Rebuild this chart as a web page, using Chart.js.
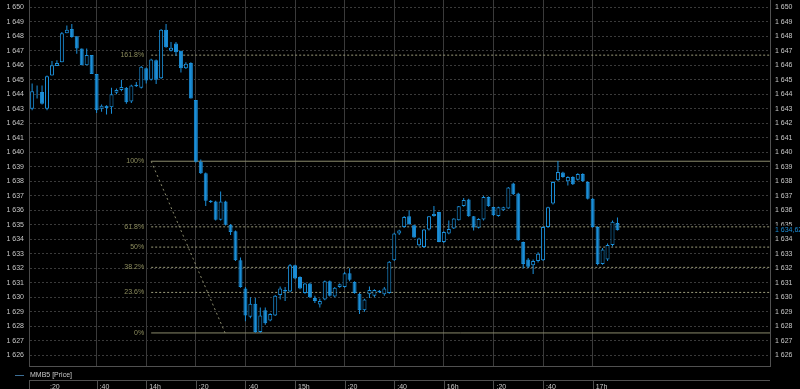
<!DOCTYPE html>
<html>
<head>
<meta charset="utf-8">
<script src="https://cdn.jsdelivr.net/npm/chart.js@4.4.0/dist/chart.umd.min.js"></script>
<style>
  html, body { margin: 0; padding: 0; background: #000; overflow: hidden; }
  #wrap { position: relative; width: 800px; height: 392px; }
</style>
</head>
<body>
<div id="wrap"><canvas id="chart"></canvas></div>
<script>
// 2-minute candles, time in minutes after 13:00
const firstMinute = 14;
const stepMinutes = 2;

const opens = [
  1643.0, 1644.2, 1644.15, 1643.0, 1645.3, 1645.95, 1646.2, 1648.2, 1648.5, 1648.0,
  1647.15, 1646.0, 1646.7, 1645.4, 1643.0, 1643.2, 1643.1, 1644.1, 1644.3, 1644.45,
  1643.5, 1644.55, 1644.45, 1645.8, 1645.0, 1646.35, 1645.1, 1648.45, 1647.0, 1647.5,
  1647.0, 1645.8, 1646.15, 1643.6, 1639.35, 1638.55, 1636.65, 1636.6, 1635.35, 1636.6,
  1635.0, 1634.55, 1632.55, 1630.6, 1628.65, 1629.55, 1627.6, 1629.1, 1628.4, 1628.75,
  1630.15, 1630.5, 1630.4, 1632.2, 1631.4, 1630.3, 1630.95, 1629.95, 1629.5, 1629.85,
  1631.1, 1630.05, 1630.7, 1630.7, 1631.65, 1631.05, 1630.25, 1629.1, 1630.2, 1630.1,
  1630.45, 1630.2, 1630.3, 1632.55, 1634.4, 1634.85, 1635.59, 1634.97, 1633.59, 1633.47,
  1634.67, 1635.6, 1635.88, 1633.81, 1634.4, 1634.74, 1635.31, 1636.3, 1636.74, 1635.59,
  1634.8, 1635.36, 1636.92, 1636.23, 1635.6, 1636.0, 1636.12, 1637.84, 1637.15, 1633.81,
  1632.6, 1632.2, 1632.5, 1632.55, 1634.85, 1636.46, 1638.07, 1638.6, 1638.0, 1638.3,
  1638.1, 1638.5, 1637.95, 1636.8, 1634.85, 1632.3, 1632.6, 1633.6, 1635.13
];
const highs = [
  1644.75, 1644.6, 1644.6, 1645.3, 1646.3, 1646.35, 1648.3, 1648.75, 1648.85, 1648.0,
  1647.15, 1647.15, 1646.7, 1645.4, 1643.3, 1643.25, 1644.45, 1644.4, 1645.0, 1644.5,
  1644.65, 1644.85, 1645.95, 1645.85, 1646.45, 1646.4, 1648.5, 1648.85, 1647.6, 1647.6,
  1647.0, 1646.2, 1646.2, 1643.6, 1639.5, 1638.6, 1636.7, 1636.65, 1637.3, 1636.65,
  1635.05, 1634.6, 1632.75, 1630.7, 1630.0, 1629.95, 1629.3, 1629.3, 1628.9, 1630.15,
  1630.75, 1630.7, 1632.3, 1632.25, 1631.45, 1631.0, 1631.0, 1630.1, 1629.9, 1631.15,
  1631.15, 1630.7, 1630.95, 1631.75, 1632.0, 1631.1, 1630.3, 1629.9, 1630.75, 1630.55,
  1630.5, 1630.7, 1632.5, 1634.45, 1634.65, 1635.6, 1636.0, 1635.0, 1634.1, 1634.7,
  1635.6, 1636.3, 1635.9, 1634.55, 1635.3, 1635.45, 1636.3, 1636.85, 1636.8, 1635.6,
  1635.45, 1637.0, 1636.95, 1636.25, 1636.25, 1636.25, 1637.6, 1637.9, 1637.2, 1633.85,
  1632.7, 1632.6, 1633.1, 1634.9, 1636.25, 1638.0, 1639.4, 1638.65, 1638.35, 1638.35,
  1638.55, 1638.55, 1638.0, 1636.85, 1634.9, 1633.4, 1633.7, 1635.3, 1635.5
];
const lows = [
  1642.9, 1643.7, 1643.3, 1642.9, 1645.3, 1645.95, 1646.2, 1648.2, 1647.9, 1646.8,
  1646.0, 1646.0, 1645.4, 1642.7, 1642.8, 1642.6, 1642.65, 1644.0, 1644.2, 1643.35,
  1643.4, 1644.5, 1644.4, 1644.75, 1644.95, 1644.7, 1645.05, 1647.2, 1646.95, 1646.65,
  1645.5, 1645.75, 1643.7, 1639.3, 1638.5, 1636.3, 1636.5, 1635.3, 1635.3, 1634.95,
  1634.3, 1632.5, 1630.65, 1628.35, 1628.55, 1627.55, 1627.55, 1628.1, 1628.35, 1628.7,
  1629.85, 1629.75, 1630.35, 1631.25, 1630.55, 1630.25, 1629.95, 1629.6, 1629.3, 1629.8,
  1630.05, 1630.0, 1630.65, 1630.65, 1631.1, 1630.25, 1628.85, 1629.0, 1629.95, 1630.0,
  1630.3, 1630.1, 1630.25, 1632.5, 1634.3, 1634.8, 1635.0, 1634.1, 1633.5, 1633.4,
  1634.6, 1635.55, 1633.8, 1633.75, 1634.35, 1634.7, 1635.3, 1636.25, 1635.55, 1634.6,
  1634.75, 1635.3, 1636.25, 1635.6, 1635.55, 1635.95, 1636.1, 1637.05, 1633.9, 1632.0,
  1632.0, 1631.6, 1632.4, 1632.5, 1634.8, 1636.4, 1638.0, 1638.25, 1637.7, 1637.75,
  1638.05, 1637.95, 1636.75, 1634.8, 1632.2, 1632.25, 1632.5, 1633.5, 1634.6
];
const closes = [
  1644.2, 1644.25, 1643.35, 1645.25, 1646.0, 1646.15, 1648.2, 1648.45, 1647.95, 1647.15,
  1646.0, 1646.7, 1645.4, 1642.9, 1643.2, 1643.05, 1644.0, 1644.3, 1644.5, 1643.45,
  1644.6, 1644.65, 1645.9, 1644.95, 1646.4, 1645.0, 1648.45, 1647.25, 1647.2, 1646.9,
  1645.8, 1646.1, 1643.7, 1639.35, 1638.55, 1636.65, 1636.55, 1635.35, 1636.6, 1635.0,
  1634.5, 1632.55, 1630.7, 1628.75, 1629.55, 1627.6, 1628.75, 1628.2, 1628.85, 1630.1,
  1630.6, 1630.4, 1632.2, 1631.3, 1630.6, 1630.95, 1630.0, 1629.75, 1629.75, 1631.1,
  1630.1, 1630.65, 1630.9, 1631.65, 1631.2, 1630.3, 1629.1, 1629.85, 1630.5, 1630.5,
  1630.35, 1630.6, 1632.45, 1634.4, 1634.6, 1635.54, 1635.03, 1634.12, 1634.05, 1634.67,
  1635.59, 1635.75, 1633.81, 1634.5, 1634.7, 1635.43, 1636.27, 1636.7, 1635.59, 1634.81,
  1635.4, 1636.92, 1636.28, 1635.66, 1636.2, 1636.2, 1637.57, 1637.1, 1633.93, 1632.3,
  1632.1, 1632.5, 1633.0, 1634.85, 1636.2, 1637.95, 1638.64, 1638.3, 1638.3, 1637.8,
  1638.5, 1638.0, 1636.8, 1634.85, 1632.3, 1633.3, 1633.6, 1635.2, 1634.62
];

// axis ticks
const yTickValues = [1626, 1627, 1628, 1629, 1630, 1631, 1632, 1633, 1634, 1635, 1636, 1637,
  1638, 1639, 1640, 1641, 1642, 1643, 1644, 1645, 1646, 1647, 1648, 1649, 1650];
const xTickMinutes = [20, 40, 60, 80, 100, 120, 140, 160, 180, 200, 220, 240];
const xTickLabels = [':20', ':40', '14h', ':20', ':40', '15h', ':20', ':40', '16h', ':20', ':40', '17h'];

// Fibonacci retracement drawn from the 14h02 high down to the 14h32 low
const fibLevels = [0, 23.6, 38.2, 50, 61.8, 100, 161.8];
const fibHigh = 1639.38;
const fibLow = 1627.54;
const fibStartMinute = 62;
const fibLowMinute = 91.8;

const seriesName = 'MMB5 [Price]';
const lastPrice = 1634.62;

const blue = '#1b8fd9';
const grid = '#3a3a3a';
const font = '"Liberation Sans", Arial, sans-serif';
const fontSize = 7;
const xMin = 12.74, xMax = 311.5;
const yMin = 1625.26, yMax = 1650.5;

const fibPrice = (lvl) => fibLow + (fibHigh - fibLow) * lvl / 100;
const spaced = (v) => String(v).replace(/\B(?=(\d{3})+(?!\d))/g, ' ');

const times = opens.map((_, i) => firstMinute + i * stepMinutes);
const bodies = times.map((t, i) => ({ x: t, y: [opens[i], closes[i]] }));
const wicks = times.map((t, i) => ({ x: t, y: [lows[i], highs[i]] }));
const rising = opens.map((o, i) => closes[i] >= o);

const fibSets = fibLevels.map(lvl => ({
  type: 'line',
  data: [{ x: fibStartMinute, y: fibPrice(lvl) }, { x: xMax, y: fibPrice(lvl) }],
  borderColor: (lvl === 0 || lvl === 100) ? '#8a8a6c' : '#9a9a7a',
  borderWidth: 1,
  borderDash: (lvl === 0 || lvl === 100) ? [] : [2, 2],
  pointRadius: 0,
  order: 5
}));
fibSets.push({
  type: 'line',
  data: [{ x: fibStartMinute, y: fibHigh }, { x: fibLowMinute, y: fibLow }],
  borderColor: '#8a8a6c',
  borderWidth: 1,
  borderDash: [2, 3],
  pointRadius: 0,
  order: 5
});

const overlay = {
  id: 'overlay',
  afterDatasetsDraw(chart) {
    const { ctx, scales: { x, y } } = chart;
    ctx.save();
    ctx.font = fontSize + 'px ' + font;
    ctx.fillStyle = '#8d8d5e';
    ctx.textAlign = 'right';
    ctx.textBaseline = 'middle';
    const lx = x.getPixelForValue(fibStartMinute) - 7;
    fibLevels.forEach(lvl => ctx.fillText(lvl + '%', lx, y.getPixelForValue(fibPrice(lvl))));
    ctx.restore();
  },
  afterDraw(chart) {
    const { ctx, chartArea: a, scales: { x, y } } = chart;
    ctx.save();
    // time axis box
    ctx.strokeStyle = '#505050';
    ctx.lineWidth = 1;
    ctx.beginPath();
    ctx.moveTo(a.left, 380.5); ctx.lineTo(a.right, 380.5);
    ctx.moveTo(a.left + 0.5, 381); ctx.lineTo(a.left + 0.5, 392);
    x.ticks.forEach(t => {
      if (t.value === xTickMinutes[0]) return;
      const px = Math.round(x.getPixelForValue(t.value)) + 0.5;
      ctx.moveTo(px, 381); ctx.lineTo(px, 392);
    });
    ctx.stroke();
    // legend
    ctx.strokeStyle = '#3d6f96';
    ctx.beginPath();
    ctx.moveTo(15, 375.5); ctx.lineTo(24, 375.5);
    ctx.stroke();
    ctx.font = fontSize + 'px ' + font;
    ctx.fillStyle = '#c8c8c8';
    ctx.textAlign = 'left';
    ctx.textBaseline = 'middle';
    ctx.fillText(seriesName, 30, 375.5);
    // last price on the right axis
    const py = y.getPixelForValue(lastPrice);
    ctx.fillStyle = '#000';
    ctx.fillRect(a.right + 2, py - 4.5, 800 - a.right - 2, 9);
    ctx.fillStyle = blue;
    ctx.fillText(spaced(Math.floor(lastPrice)) + ',' + lastPrice.toFixed(2).split('.')[1], a.right + 5, py);
    ctx.restore();
  }
};

const yTicks = {
  color: '#c8c8c8',
  font: { family: font, size: fontSize },
  padding: 5,
  callback: v => spaced(v)
};
const setYTicks = s => { s.ticks = yTickValues.map(v => ({ value: v })); };

new Chart(document.getElementById('chart'), {
  type: 'bar',
  data: {
    datasets: [
      {
        label: 'bodies',
        data: bodies,
        backgroundColor: rising.map(r => r ? '#000' : blue),
        borderColor: blue,
        borderWidth: 1,
        borderSkipped: false,
        barThickness: 4,
        inflateAmount: 0,
        grouped: false,
        order: 1
      },
      {
        label: 'wicks',
        data: wicks,
        backgroundColor: blue,
        borderWidth: 0,
        barThickness: 1,
        inflateAmount: 0,
        grouped: false,
        order: 2
      },
      ...fibSets
    ]
  },
  options: {
    responsive: true,
    maintainAspectRatio: false,
    animation: false,
    events: [],
    layout: { padding: 0 },
    plugins: { legend: { display: false }, tooltip: { enabled: false } },
    scales: {
      x: {
        type: 'linear',
        min: xMin,
        max: xMax,
        offset: false,
        grid: {
          color: c => (c.tick && c.tick.value === xTickMinutes[0]) ? 'rgba(0,0,0,0)' : grid,
          borderDash: [2, 2], drawTicks: false, offset: false
        },
        border: { color: '#505050' },
        ticks: {
          autoSkip: false,
          maxRotation: 0,
          align: 'start',
          labelOffset: 3,
          padding: 17,
          color: '#c8c8c8',
          font: { family: font, size: fontSize },
          callback: v => xTickLabels[xTickMinutes.indexOf(v)]
        },
        afterBuildTicks: s => { s.ticks = xTickMinutes.map(v => ({ value: v })); },
        afterFit: s => { s.height = 26; s.paddingLeft = 0; s.paddingRight = 0; }
      },
      y: {
        position: 'left',
        min: yMin,
        max: yMax,
        grid: { color: grid, borderDash: [2, 2], drawTicks: false },
        border: { color: '#4a4a4a', dash: [2, 2] },
        ticks: yTicks,
        afterBuildTicks: setYTicks,
        afterFit: s => { s.width = 29; s.paddingTop = 0; s.paddingBottom = 0; }
      },
      y2: {
        position: 'right',
        min: yMin,
        max: yMax,
        grid: { display: false, drawTicks: false },
        border: { color: '#505050' },
        ticks: yTicks,
        afterBuildTicks: setYTicks,
        afterFit: s => { s.width = 30; s.paddingTop = 0; s.paddingBottom = 0; }
      }
    }
  },
  plugins: [overlay]
});
</script>
</body>
</html>
